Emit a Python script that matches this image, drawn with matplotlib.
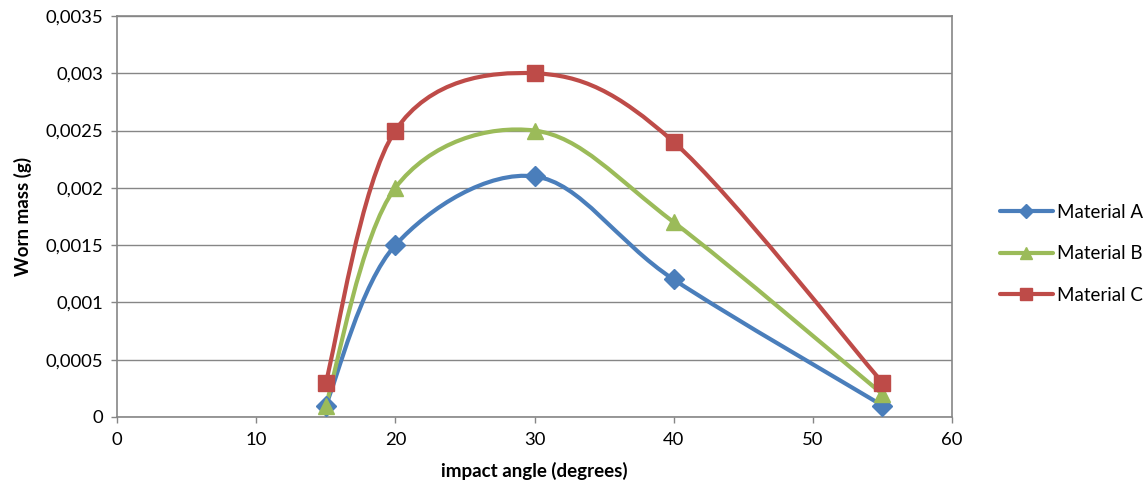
import matplotlib
matplotlib.use('Agg')
import matplotlib.pyplot as plt
from matplotlib.path import Path
from matplotlib.patches import PathPatch
from matplotlib.ticker import FuncFormatter

plt.rcParams['font.family'] = ['Lato', 'DejaVu Sans']

angles = [15, 20, 30, 40, 55]
material_a = [0.0001, 0.0015, 0.0021, 0.0012, 0.0001]
material_b = [0.0001, 0.0020, 0.0025, 0.0017, 0.0002]
material_c = [0.0003, 0.0025, 0.0030, 0.0024, 0.0003]
names = ['Material A', 'Material B', 'Material C']


def smooth_path(xs, ys):
    # Excel-like smoothed line: cubic Bezier through the points (Catmull-Rom)
    pts = list(zip(xs, ys))
    n = len(pts)
    verts = [pts[0]]
    codes = [Path.MOVETO]
    for i in range(n - 1):
        p0 = pts[i - 1] if i > 0 else pts[i]
        p1 = pts[i]
        p2 = pts[i + 1]
        p3 = pts[i + 2] if i + 2 < n else pts[i + 1]
        c1 = (p1[0] + (p2[0] - p0[0]) / 6, p1[1] + (p2[1] - p0[1]) / 6)
        c2 = (p2[0] - (p3[0] - p1[0]) / 6, p2[1] - (p3[1] - p1[1]) / 6)
        verts += [c1, c2, p2]
        codes += [Path.CURVE4] * 3
    return Path(verts, codes)


fig = plt.figure(figsize=(11.48, 4.9), dpi=100)
ax = fig.add_axes([0.1019, 0.149, 0.7274, 0.8184])

series = [
    (material_a, '#4A7EBB', 'D', 10),
    (material_b, '#9BBB59', '^', 11),
    (material_c, '#BE4B48', 's', 12),
]

handles = []
for (vals, color, marker, ms), name in zip(series, names):
    patch = PathPatch(smooth_path(angles, vals), facecolor='none',
                      edgecolor=color, linewidth=3, zorder=3,
                      capstyle='round', joinstyle='round')
    ax.add_patch(patch)
    ax.plot(angles, vals, linestyle='none', marker=marker, markersize=ms,
            color=color, zorder=4)
    h, = ax.plot([], [], color=color, linewidth=3, marker=marker,
                 markersize=ms * 0.75, solid_capstyle='round')
    handles.append(h)

ax.set_xlim(0, 60)
ax.set_ylim(0, 0.0035)
ax.set_xticks([0, 10, 20, 30, 40, 50, 60])
ax.set_yticks([0, 0.0005, 0.001, 0.0015, 0.002, 0.0025, 0.003, 0.0035])
ax.yaxis.set_major_formatter(FuncFormatter(
    lambda v, p: '0' if v == 0 else ('%g' % round(v, 5)).replace('.', ',')))
ax.grid(True, axis='y', color='#868686', linewidth=1)
ax.set_axisbelow(True)
for side in ['left', 'bottom', 'top', 'right']:
    ax.spines[side].set_color('#868686')
    ax.spines[side].set_linewidth(1.2)
ax.tick_params(axis='both', colors='#868686', labelcolor='black',
               labelsize=13.3, length=4, width=1)
ax.tick_params(axis='x', pad=7)
ax.tick_params(axis='y', pad=6)

ax.set_xlabel('impact angle (degrees)', fontsize=13.5, fontweight='bold', labelpad=10)
ax.set_ylabel('Worn mass (g)', fontsize=13.5, fontweight='bold', labelpad=10)

fig.legend(handles, names, loc='center left', bbox_to_anchor=(0.871, 0.482),
           frameon=False, fontsize=13.5, handlelength=2.83, handletextpad=0.2,
           labelspacing=1.3, borderpad=0, borderaxespad=0)

fig.savefig('out.png', dpi=100)
